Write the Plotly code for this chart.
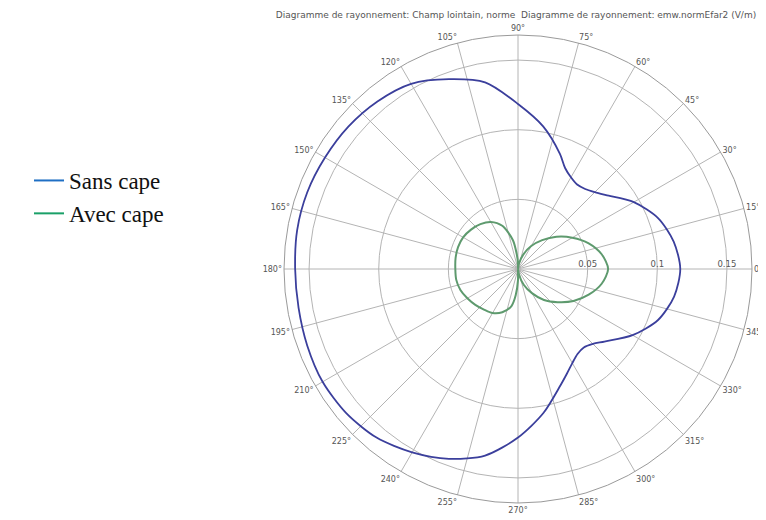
import plotly.graph_objects as go

# Angles (degrees) and radii (norm of far field, V/m)
theta_sans = [0, 10, 20, 30, 40, 45, 50, 55, 60, 65, 70, 80, 90, 100, 110, 120, 130, 140, 150, 160, 170,
              180, 190, 200, 210, 220, 230, 240, 250, 260, 270, 280, 290, 295, 300, 305, 310, 315, 320,
              330, 340, 350, 360]
r_sans = [0.1165, 0.1135, 0.107, 0.096, 0.0825, 0.078, 0.075, 0.074, 0.076, 0.080, 0.088, 0.104, 0.1185,
          0.136, 0.145, 0.1535, 0.157, 0.159, 0.160, 0.161, 0.161,
          0.160, 0.160, 0.161, 0.162, 0.161, 0.158, 0.152, 0.145, 0.136, 0.121, 0.105, 0.089, 0.083,
          0.078, 0.0745, 0.0735, 0.076, 0.081, 0.095, 0.107, 0.1138, 0.1165]

theta_avec = [0, 10, 20, 30, 40, 50, 60, 70, 80, 85, 90, 95, 100, 110, 120, 130, 140, 150, 160, 170,
              180, 190, 200, 210, 220, 230, 240, 250, 260, 265, 270, 275, 280, 290, 300, 310, 320,
              330, 340, 350, 360]
r_avec = [0.0647, 0.061, 0.054, 0.045, 0.036, 0.027, 0.019, 0.011, 0.004, 0.0, 0.004, 0.011, 0.021,
          0.033, 0.039, 0.042, 0.044, 0.0455, 0.0458, 0.0455,
          0.045, 0.045, 0.044, 0.042, 0.040, 0.038, 0.0365, 0.033, 0.027, 0.019, 0.008, 0.0, 0.004,
          0.012, 0.020, 0.029, 0.037, 0.046, 0.054, 0.061, 0.0647]

radial_ticks = [0.05, 0.1, 0.15]
radial_labels = ["0.05", "0.1", "0.15"]
radial_max = 0.168

title_text = ("Diagramme de rayonnement: Champ lointain, norme  "
              "Diagramme de rayonnement: emw.normEfar2 (V/m)")

W, H = 766, 520

fig = go.Figure()
fig.add_trace(go.Scatterpolar(
    r=r_sans, theta=theta_sans, mode="lines", name="Sans cape",
    line=dict(color="#3b3f9c", width=1.8, shape="spline", smoothing=0.8),
    showlegend=False))
fig.add_trace(go.Scatterpolar(
    r=r_avec, theta=theta_avec, mode="lines", name="Avec cape",
    line=dict(color="#5e9a6e", width=2, shape="spline", smoothing=0.8),
    showlegend=False))
# legend entries (colours as in the reference legend)
fig.add_trace(go.Scatterpolar(r=[None], theta=[None], mode="lines", name="Sans cape",
                              line=dict(color="#1f6fc4", width=2)))
fig.add_trace(go.Scatterpolar(r=[None], theta=[None], mode="lines", name="Avec cape",
                              line=dict(color="#1aa068", width=2)))

fig.update_layout(
    width=W, height=H,
    margin=dict(l=0, r=0, t=0, b=0),
    paper_bgcolor="white",
    title=dict(text=title_text, x=508 / W, xanchor="center", y=1 - 7 / H, yanchor="middle",
               font=dict(family="DejaVu Sans", size=9.0, color="#555555")),
    legend=dict(x=21 / W, y=1 - 189 / H, xanchor="left", yanchor="middle",
                font=dict(family="Liberation Serif", size=23, color="#111111"),
                bgcolor="rgba(0,0,0,0)", tracegroupgap=0, itemwidth=30),
    polar=dict(
        domain=dict(x=[276 / W, 744 / W], y=[1 - 495 / H, 1 - 27 / H]),
        bgcolor="white",
        radialaxis=dict(range=[0, radial_max], tickvals=radial_ticks, ticktext=radial_labels,
                        angle=0, side="counterclockwise", showline=False, ticks="",
                        gridcolor="#b4b4b4", gridwidth=1,
                        tickfont=dict(family="DejaVu Sans", size=8.5, color="#555555")),
        angularaxis=dict(rotation=0, direction="counterclockwise", dtick=15, ticks="",
                         showline=True, linecolor="#9a9a9a", linewidth=1,
                         gridcolor="#b4b4b4", gridwidth=1,
                         tickfont=dict(family="DejaVu Sans", size=8, color="#555555")),
    ),
)

fig.write_html("out.html")
